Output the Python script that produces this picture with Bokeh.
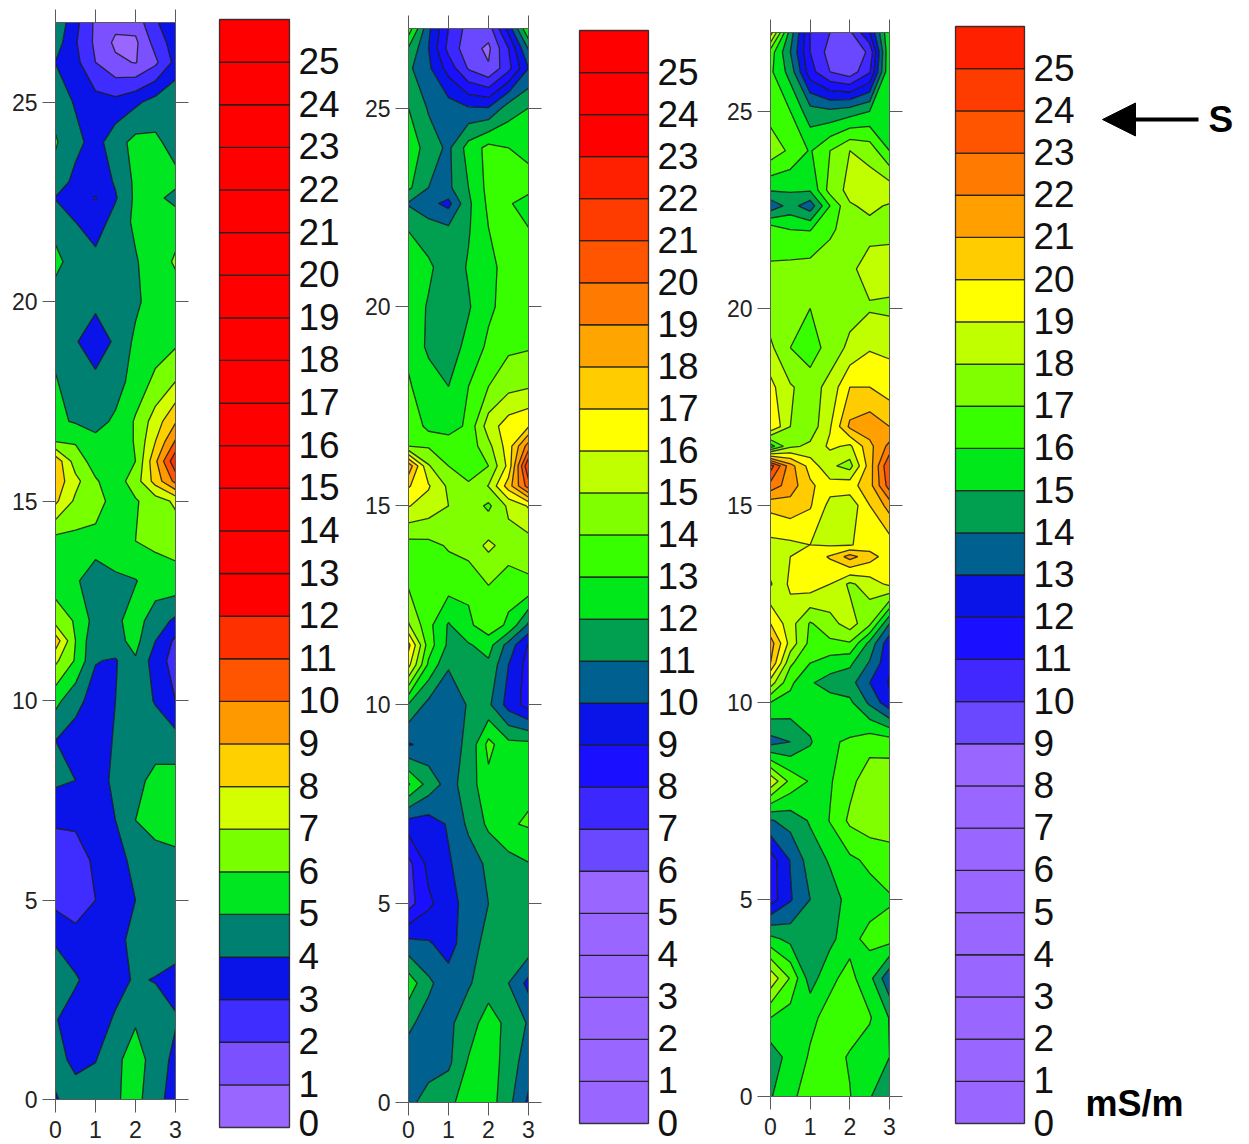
import numpy as np
from bokeh.core.properties import value
from bokeh.embed import file_html
from bokeh.layouts import row
from bokeh.models import Arrow, FixedTicker, LinearAxis, NormalHead, Range1d
from bokeh.plotting import figure
from bokeh.resources import INLINE

X = [0, 0.5, 1, 1.5, 2, 2.5, 3]
Y_A = [27, 26.5, 26, 25, 24, 23, 22.6, 22, 21, 20, 19, 18, 17, 16.5, 16, 15.5, 15, 14, 13, 12, 11.5, 11, 10, 9, 8, 7, 6, 5, 4, 3, 2, 1, 0]
Y_C = [27, 26.5, 26, 25, 24, 23, 22.6, 22, 21, 20, 19, 18, 17, 16.5, 16, 15.5, 15, 14, 13.7, 13, 12, 11.5, 11, 10.5, 10, 9, 8, 7, 6, 5, 4, 3, 2, 1, 0]
LEVELS = list(range(27))
BAR_LABELS = list(range(26))

Z1 = [
    [4.8, 3.3, 1.8, 1.3, 1.4, 2.9, 3.6],
    [4.5, 3.1, 1.8, 0.8, 0.8, 2.4, 3.5],
    [3.98, 3.3, 2.0, 1.2, 0.95, 1.8, 3.3],
    [4.6, 3.9, 3.4, 3.3, 3.8, 4.4, 4.9],
    [5.1, 4.3, 3.6, 4.6, 5.3, 5.2, 4.6],
    [4.6, 3.7, 3.4, 4.1, 5.2, 5.4, 5.3],
    [3.95, 3.5, 2.95, 3.9, 5.2, 5.3, 4.6],
    [4.6, 4.0, 3.5, 4.4, 5.2, 5.3, 5.7],
    [5.3, 4.5, 4.3, 4.6, 4.9, 5.6, 6.1],
    [4.5, 4.3, 4.3, 4.5, 4.8, 5.5, 5.6],
    [4.6, 4.1, 3.3, 4.2, 5.2, 5.6, 5.8],
    [5.1, 4.3, 4.3, 4.5, 5.5, 6.2, 7.0],
    [5.2, 4.9, 4.6, 5.2, 6.1, 7.5, 8.9],
    [5.95, 5.9, 5.3, 5.2, 6.1, 8.0, 10.1],
    [8.7, 6.5, 5.6, 5.2, 6.0, 8.8, 11.8],
    [8.6, 7.3, 6.1, 5.5, 6.5, 8.4, 10.3],
    [8.2, 6.8, 6.4, 5.6, 5.9, 6.5, 7.2],
    [5.6, 5.7, 5.7, 5.5, 6.0, 6.2, 6.3],
    [5.5, 5.2, 4.2, 4.85, 4.95, 5.5, 5.7],
    [6.6, 5.9, 4.6, 4.8, 5.4, 4.5, 3.8],
    [8.6, 6.0, 4.15, 4.7, 5.3, 4.0, 2.8],
    [7.2, 5.9, 4.05, 3.9, 4.9, 3.5, 2.6],
    [5.3, 4.3, 3.6, 4.0, 4.7, 3.9, 3.0],
    [4.0, 3.6, 3.5, 4.1, 4.7, 4.7, 4.4],
    [4.2, 4.0, 3.6, 4.2, 4.8, 5.2, 5.4],
    [3.1, 3.2, 3.2, 4.0, 5.0, 5.4, 5.6],
    [2.6, 2.5, 3.2, 3.6, 4.3, 4.6, 4.7],
    [2.7, 2.3, 3.0, 3.4, 4.0, 4.5, 4.6],
    [3.9, 3.5, 3.4, 3.7, 4.3, 4.5, 4.6],
    [4.5, 4.1, 3.6, 3.7, 4.1, 3.95, 3.6],
    [4.05, 3.6, 3.6, 4.1, 4.9, 4.5, 4.1],
    [4.4, 3.7, 3.95, 4.8, 5.4, 4.6, 3.7],
    [3.9, 4.5, 4.6, 4.9, 5.3, 4.4, 3.5],
]

Z2 = [
    [13.6, 10.2, 8.0, 6.6, 6.5, 9.4, 13.0],
    [11.9, 10.0, 7.7, 6.4, 5.8, 8.0, 11.1],
    [11.2, 10.2, 8.6, 6.9, 6.1, 7.7, 10.0],
    [12.0, 10.9, 10.5, 10.1, 10.05, 11.5, 12.0],
    [12.7, 11.5, 10.8, 12.4, 13.3, 13.0, 12.8],
    [12.2, 11.0, 10.8, 12.0, 13.3, 13.4, 13.3],
    [10.9, 10.3, 9.7, 11.8, 13.2, 13.1, 12.6],
    [11.9, 11.4, 11.1, 11.9, 13.0, 13.4, 13.0],
    [12.9, 12.2, 11.4, 12.1, 12.7, 13.4, 13.5],
    [12.6, 11.9, 11.6, 11.9, 12.8, 13.4, 13.6],
    [12.8, 11.8, 11.5, 12.3, 13.2, 13.8, 13.9],
    [13.1, 12.5, 12.0, 13.0, 14.0, 14.7, 14.9],
    [13.8, 12.7, 12.3, 13.3, 15.5, 16.5, 16.9],
    [14.0, 13.9, 13.9, 13.4, 14.7, 16.5, 19.5],
    [18.7, 15.1, 14.0, 13.3, 14.0, 16.3, 22.0],
    [17.1, 16.1, 14.8, 14.2, 15.05, 17.5, 20.5],
    [16.05, 15.6, 15.0, 14.6, 13.8, 15.2, 16.1],
    [13.6, 13.7, 14.1, 14.5, 15.2, 14.6, 14.5],
    [13.9, 13.6, 13.4, 13.2, 14.0, 13.4, 13.8],
    [15.1, 13.3, 11.9, 12.8, 13.6, 12.8, 10.8],
    [17.3, 13.5, 11.8, 11.9, 12.4, 10.6, 8.9],
    [16.3, 12.8, 11.1, 11.7, 11.8, 10.0, 8.6],
    [11.9, 10.7, 10.3, 11.1, 11.2, 9.6, 8.6],
    [9.9, 10.3, 10.6, 11.2, 13.3, 12.3, 12.3],
    [13.1, 11.6, 10.6, 11.5, 12.7, 12.8, 12.8],
    [9.5, 9.5, 10.1, 11.2, 12.2, 12.9, 13.1],
    [7.7, 9.3, 9.9, 10.5, 11.2, 11.6, 11.95],
    [7.6, 8.8, 9.6, 10.4, 11.0, 11.5, 11.7],
    [10.3, 10.1, 9.6, 10.6, 11.3, 11.5, 11.7],
    [12.6, 11.2, 10.4, 10.9, 11.5, 11.0, 9.7],
    [11.2, 10.6, 10.8, 11.5, 12.5, 11.7, 10.9],
    [10.5, 10.4, 10.8, 12.1, 12.6, 11.5, 10.5],
    [10.6, 11.6, 11.8, 12.4, 12.5, 11.3, 9.8],
]

Z3 = [
    [19.5, 14.5, 11.0, 10.0, 9.8, 12.0, 16.0],
    [16.5, 14.0, 11.0, 9.6, 9.2, 10.2, 16.0],
    [16.2, 14.6, 11.4, 10.0, 9.4, 10.9, 16.0],
    [16.6, 16.0, 14.4, 14.2, 14.5, 15.0, 15.8],
    [17.6, 16.8, 15.9, 17.0, 18.0, 17.6, 16.0],
    [15.1, 15.1, 15.1, 17.4, 18.3, 18.6, 18.6],
    [13.3, 14.4, 13.4, 16.0, 17.9, 18.2, 17.9],
    [16.6, 16.0, 15.95, 16.8, 17.5, 17.7, 17.7],
    [17.1, 17.3, 17.4, 17.6, 17.8, 18.4, 18.5],
    [17.4, 17.2, 17.0, 17.5, 17.7, 17.9, 17.8],
    [18.2, 17.0, 16.4, 17.5, 18.2, 18.9, 18.8],
    [19.3, 18.1, 17.6, 18.3, 20.0, 20.0, 19.5],
    [20.0, 18.0, 17.4, 18.9, 21.2, 21.6, 21.0],
    [15.5, 17.8, 18.2, 19.2, 18.8, 20.7, 22.3],
    [24.5, 21.4, 19.6, 18.2, 17.6, 20.5, 24.0],
    [22.6, 21.5, 20.2, 19.4, 19.6, 20.6, 23.5],
    [20.3, 20.6, 20.1, 18.7, 18.3, 20.0, 21.4],
    [18.7, 18.8, 19.0, 18.9, 18.9, 19.5, 19.5],
    [18.6, 19.0, 19.5, 20.1, 21.4, 20.4, 19.5],
    [17.9, 19.2, 19.6, 19.0, 17.8, 18.5, 19.2],
    [20.0, 18.4, 16.9, 17.6, 18.5, 17.2, 14.0],
    [21.5, 18.6, 16.7, 16.8, 16.9, 14.7, 12.3],
    [21.0, 17.2, 16.0, 15.5, 15.2, 13.9, 12.2],
    [18.5, 16.2, 15.1, 14.6, 14.4, 13.0, 11.9],
    [16.0, 15.7, 15.6, 15.4, 15.2, 13.8, 12.3],
    [13.6, 14.0, 14.9, 15.9, 16.1, 16.6, 16.5],
    [18.8, 16.7, 15.9, 15.9, 16.7, 17.6, 17.7],
    [13.9, 14.4, 15.1, 16.05, 17.2, 17.6, 17.6],
    [11.5, 13.05, 14.5, 15.1, 15.8, 16.2, 16.5],
    [11.5, 12.9, 14.0, 14.6, 15.3, 15.6, 15.9],
    [15.3, 14.7, 14.4, 14.7, 15.7, 16.3, 16.4],
    [18.7, 16.9, 14.5, 15.8, 16.3, 15.3, 13.2],
    [16.0, 15.5, 15.8, 16.3, 16.5, 16.1, 14.95],
    [14.4, 15.4, 16.1, 16.4, 15.9, 15.5, 15.0],
    [14.9, 15.9, 16.2, 16.4, 16.05, 15.05, 14.5],
]

PURPLE = "#9966ff"
RED = "#ff0000"
PALETTE_1 = [PURPLE, "#7a50ff", "#3f2cff", "#0a14e8", "#008070", "#00e620", "#78ff00", "#d4ff00",
             "#ffd000", "#ff9900", "#ff5500", "#ff3000"] + [RED] * 14
PALETTE_2 = [PURPLE] * 6 + ["#6a48ff", "#3c28ff", "#1a10ff", "#0a14e8", "#006090", "#00a050", "#00e81a",
             "#38ff00", "#80ff00", "#c0ff00", "#ffff00", "#ffcc00", "#ffa500", "#ff7a00", "#ff5500",
             "#ff3c00", "#ff2000"] + [RED] * 3
PALETTE_3 = [PURPLE] * 9 + ["#6a48ff", "#4028ff", "#1a10ff", "#0a14e8", "#006090", "#00a050", "#00e81a",
             "#38ff00", "#80ff00", "#c0ff00", "#ffff00", "#ffcc00", "#ffa000", "#ff7a00", "#ff5500",
             "#ff3c00", "#ff2000"]

FONT = "Liberation Sans"
AXIS = "#5a5a5a"
TEXT = "#222222"
H = 1144


def panel(z, ys, palette, left, frame_w, right, top, frame_h, standoff):
    p = figure(frame_width=frame_w, frame_height=frame_h, output_backend="svg", toolbar_location=None,
               x_range=Range1d(0, 3), y_range=Range1d(0, 27), min_border_left=left, min_border_right=right,
               min_border_top=top, min_border_bottom=H - top - frame_h, background_fill_color=None,
               border_fill_color=None, outline_line_color=None, frame_align=False)
    p.grid.visible = False
    zz = np.array(z, dtype=float)[::-1]
    yy = np.array(ys, dtype=float)[::-1]
    p.contour(X, yy, zz, LEVELS, fill_color=palette, line_color="#161616", line_width=1.3, line_alpha=0.85)
    x_ticks = FixedTicker(ticks=[0, 1, 2, 3])
    y_ticks = FixedTicker(ticks=[0, 5, 10, 15, 20, 25])
    p.add_layout(LinearAxis(ticker=x_ticks), "above")
    p.add_layout(LinearAxis(ticker=y_ticks), "right")
    for ax in p.axis:
        ax.major_tick_in = 0
        ax.major_tick_out = 13
        ax.minor_tick_line_color = None
        ax.major_tick_line_color = AXIS
        ax.axis_line_color = AXIS
        ax.major_tick_line_width = 1
    p.above[0].major_label_overrides = {t: "" for t in x_ticks.ticks}
    p.above[0].major_label_text_font_size = "1px"
    p.above[0].major_label_standoff = 0
    p.right[0].major_label_overrides = {t: "" for t in y_ticks.ticks}
    p.right[0].major_label_text_font_size = "1px"
    p.right[0].major_label_standoff = 0
    p.below[0].ticker = x_ticks
    p.left[0].ticker = y_ticks
    for ax, s in ((p.below[0], standoff), (p.left[0], 5)):
        ax.major_label_text_font = FONT
        ax.major_label_text_font_size = "23px"
        ax.major_label_text_color = TEXT
        ax.major_label_standoff = s
    return p


def bar(palette, width, bar_left, bar_w, bar_top, bar_bottom, zero_shift=-1):
    band = (bar_bottom - bar_top) / 26
    p = figure(width=width, height=H, output_backend="svg", toolbar_location=None,
               x_range=Range1d(-bar_left / bar_w, (width - bar_left) / bar_w),
               y_range=Range1d(-(H - bar_bottom) / band, 26 + bar_top / band),
               min_border=0, background_fill_color=None, border_fill_color=None, outline_line_color=None,
               frame_align=False)
    p.axis.visible = False
    p.grid.visible = False
    bottoms = LEVELS[:-1]
    tops = LEVELS[1:]
    p.quad(left=0, right=1, bottom=bottoms, top=tops, fill_color=palette, line_color="#1c1c1c", line_width=1.3, line_alpha=0.85)
    shifts = [zero_shift] + [-1] * (len(BAR_LABELS) - 1)
    p.text(x=[1 + 9 / bar_w] * len(BAR_LABELS), y=BAR_LABELS, text=[str(v) for v in BAR_LABELS],
           text_font=value(FONT), text_font_size="37px", text_color="#111111",
           text_align="left", text_baseline="middle", y_offset=shifts)
    return p


f1 = panel(Z1, Y_A, PALETTE_1, 55, 120, 30, 22, 1077, 8)
b1 = bar(PALETTE_1, 150, 14, 70, 19, 1127, zero_shift=-5)
f2 = panel(Z2, Y_A, PALETTE_2, 53, 120, 32, 28, 1074, 5)
b2 = bar(PALETTE_2, 155, 19, 69, 30, 1123)
f3 = panel(Z3, Y_C, PALETTE_3, 55, 119, 47, 32, 1064, 8)
b3 = bar(PALETTE_3, 313, 19, 69, 26, 1123)

unit_x = 1 / 69
band3 = (1123 - 26) / 26
ax_y = (1123 - 119) / band3
b3.add_layout(Arrow(end=NormalHead(size=33, fill_color="black", line_color="black"),
                    x_start=1 + (1198 - 1024) * unit_x, y_start=ax_y, x_end=1 + (1102 - 1024) * unit_x, y_end=ax_y,
                    line_color="black", line_width=4))
b3.text(x=[1 + (1208 - 1024) * unit_x], y=[ax_y], text=["S"], text_font=value(FONT), text_font_style="bold",
        text_font_size="37px", text_color="black", text_align="left", text_baseline="middle")
b3.text(x=[1 + (1085 - 1024) * unit_x], y=[(1123 - 1103) / band3], text=["mS/m"], text_font=value(FONT),
        text_font_style="bold", text_font_size="36px", text_color="black", text_align="left", text_baseline="middle")

layout = row(f1, b1, f2, b2, f3, b3, spacing=0)
open("out.html", "w").write(file_html(layout, INLINE))
